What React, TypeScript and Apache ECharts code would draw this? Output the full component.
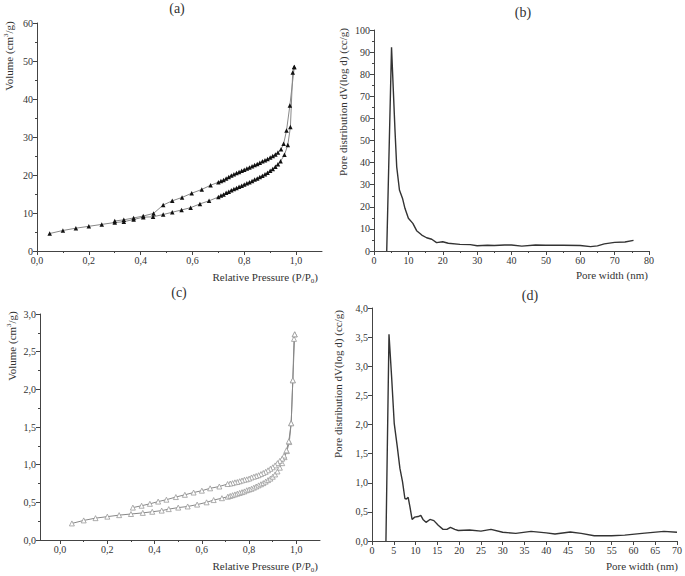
import React, { useEffect, useRef } from 'react';
import * as echarts from 'echarts';

const FONT = '"Liberation Serif", "Times New Roman", serif';
const TXT = '#333';
const AX = '#444';

// (a) isotherm – adsorption branch
const aAdsP = [0.049, 0.10, 0.15, 0.20, 0.25, 0.30, 0.335, 0.373, 0.41, 0.448, 0.487, 0.522, 0.558, 0.593, 0.629, 0.664, 0.70, 0.71, 0.72, 0.73, 0.74, 0.75, 0.76, 0.77, 0.78, 0.79, 0.80, 0.81, 0.82, 0.83, 0.84, 0.85, 0.86, 0.87, 0.88, 0.89, 0.90, 0.91, 0.92, 0.93, 0.94, 0.955, 0.968, 0.978, 0.987, 0.993];
const aAdsV = [4.6, 5.4, 6.0, 6.5, 7.0, 7.5, 7.7, 8.3, 8.9, 9.0, 9.6, 10.2, 10.8, 11.4, 12.4, 13.2, 14.2, 14.6, 14.9, 15.3, 15.6, 16.0, 16.3, 16.6, 16.9, 17.2, 17.5, 17.8, 18.1, 18.4, 18.8, 19.1, 19.5, 19.8, 20.2, 20.6, 21.1, 21.6, 22.2, 22.8, 23.6, 25.3, 27.9, 32.6, 47.0, 48.4];
// (a) isotherm – desorption branch
const aDesP = [0.993, 0.976, 0.963, 0.952, 0.942, 0.93, 0.92, 0.91, 0.90, 0.89, 0.88, 0.87, 0.86, 0.85, 0.84, 0.83, 0.82, 0.81, 0.80, 0.79, 0.78, 0.77, 0.76, 0.75, 0.74, 0.73, 0.72, 0.71, 0.70, 0.67, 0.636, 0.597, 0.56, 0.522, 0.487, 0.45, 0.41, 0.373, 0.335, 0.30];
const aDesV = [48.4, 38.3, 31.7, 28.2, 26.8, 25.9, 25.4, 25.0, 24.6, 24.2, 23.9, 23.6, 23.2, 22.9, 22.6, 22.3, 22.0, 21.7, 21.4, 21.1, 20.8, 20.5, 20.2, 19.9, 19.5, 19.1, 18.7, 18.4, 18.1, 17.3, 16.2, 15.2, 14.1, 13.2, 12.1, 9.9, 9.2, 8.7, 8.2, 7.9];

// (b) pore distribution
const bX = [3.7, 5.1, 6.1, 6.6, 7.4, 8.3, 9.0, 10.0, 11.3, 12.4, 13.9, 15.3, 16.8, 18.2, 20.0, 21.6, 25, 28, 30, 33, 35, 38, 40, 43, 47, 50, 55, 60, 63, 65, 67, 70, 73, 75.5];
const bY = [0, 92.2, 54.8, 38.2, 27.6, 23.8, 19.3, 14.8, 12.5, 9.2, 7.2, 6.0, 5.3, 3.8, 4.2, 3.5, 3.0, 2.9, 2.4, 2.6, 2.5, 2.7, 2.7, 2.2, 2.7, 2.6, 2.6, 2.5, 2.0, 2.3, 3.2, 3.9, 4.1, 4.8];

// (c) isotherm – adsorption branch
const cAdsP = [0.05, 0.10, 0.15, 0.20, 0.25, 0.30, 0.35, 0.39, 0.43, 0.46, 0.50, 0.54, 0.58, 0.62, 0.65, 0.685, 0.71, 0.72, 0.73, 0.74, 0.75, 0.76, 0.77, 0.78, 0.79, 0.80, 0.81, 0.82, 0.83, 0.84, 0.85, 0.86, 0.87, 0.88, 0.89, 0.90, 0.91, 0.92, 0.93, 0.94, 0.95, 0.96, 0.97, 0.978, 0.985, 0.99, 0.993];
const cAdsV = [0.22, 0.26, 0.29, 0.31, 0.33, 0.345, 0.36, 0.375, 0.39, 0.41, 0.43, 0.445, 0.47, 0.50, 0.53, 0.555, 0.575, 0.585, 0.595, 0.605, 0.615, 0.625, 0.635, 0.645, 0.66, 0.67, 0.68, 0.695, 0.71, 0.725, 0.74, 0.755, 0.775, 0.795, 0.815, 0.84, 0.87, 0.91, 0.96, 1.02, 1.10, 1.18, 1.30, 1.55, 2.12, 2.67, 2.73];
// (c) isotherm – desorption branch
const cDesP = [0.993, 0.985, 0.978, 0.968, 0.958, 0.948, 0.94, 0.93, 0.92, 0.91, 0.90, 0.89, 0.88, 0.87, 0.86, 0.85, 0.84, 0.83, 0.82, 0.81, 0.80, 0.79, 0.78, 0.77, 0.76, 0.75, 0.74, 0.73, 0.72, 0.709, 0.674, 0.635, 0.60, 0.565, 0.528, 0.49, 0.45, 0.415, 0.38, 0.345, 0.308];
const cDesV = [2.73, 2.12, 1.55, 1.31, 1.19, 1.12, 1.08, 1.05, 1.02, 0.99, 0.965, 0.945, 0.925, 0.905, 0.89, 0.875, 0.86, 0.85, 0.84, 0.83, 0.815, 0.805, 0.80, 0.79, 0.78, 0.77, 0.765, 0.755, 0.75, 0.743, 0.71, 0.686, 0.655, 0.63, 0.60, 0.57, 0.535, 0.51, 0.48, 0.455, 0.43];

// (d) pore distribution
const dX = [3.2, 3.9, 4.5, 5.1, 5.8, 6.4, 7.0, 7.55, 7.9, 8.3, 8.7, 9.2, 9.8, 10.6, 11.2, 11.7, 12.4, 13.3, 14.2, 15.2, 16.3, 17.2, 18.0, 19.0, 19.8, 22.4, 25, 27.3, 30, 33, 36.5, 40, 42, 45.5, 48, 51, 55, 58, 62, 67, 70];
const dY = [0, 3.55, 2.82, 2.02, 1.62, 1.25, 1.02, 0.73, 0.72, 0.75, 0.59, 0.37, 0.41, 0.42, 0.44, 0.37, 0.32, 0.37, 0.35, 0.27, 0.20, 0.20, 0.235, 0.20, 0.18, 0.19, 0.17, 0.20, 0.15, 0.13, 0.165, 0.14, 0.12, 0.155, 0.13, 0.09, 0.09, 0.10, 0.13, 0.165, 0.15];

// tick labels
const isoXMajor = [0, 0.2, 0.4, 0.6, 0.8, 1.0];
const isoXMinor = [0.1, 0.3, 0.5, 0.7, 0.9];

const zip = (xs: number[], ys: number[]) => xs.map((x, i) => [x, ys[i]]);
const comma = (d: number) => (v: number) => v.toFixed(d).replace('.', ',');

const labelStyle = { fontFamily: FONT, fontSize: 10, color: TXT, margin: 4 };
const lineStyle = { color: AX, width: 1 };

function valAxis(gridIndex: number, extra: any) {
  return {
    type: 'value',
    gridIndex,
    axisLine: { show: true, onZero: false, lineStyle },
    axisTick: { show: true, length: 4, lineStyle },
    minorTick: { show: false },
    splitLine: { show: false },
    axisLabel: { ...labelStyle },
    ...extra,
  };
}

function minorOverlay(gridIndex: number, min: number, max: number, values: number[]) {
  return {
    type: 'value',
    gridIndex,
    position: 'bottom',
    min,
    max,
    axisLine: { show: false },
    axisLabel: { show: false, customValues: values },
    axisTick: { show: true, length: 2, lineStyle, customValues: values },
    splitLine: { show: false },
  };
}

const richBase = {
  n: { font: `11px ${FONT}`, fill: TXT, lineHeight: 14 },
  s: { font: `7px ${FONT}`, fill: TXT, lineHeight: 7, verticalAlign: 'top' },
  b: { font: `7px ${FONT}`, fill: TXT, lineHeight: 7, verticalAlign: 'bottom' },
};

function txt(text: string, x: number, y: number, opts: any = {}) {
  return {
    type: 'text',
    x,
    y,
    rotation: opts.rotation || 0,
    style: {
      text,
      rich: richBase,
      align: opts.align || 'center',
      verticalAlign: 'middle',
      fill: TXT,
      font: `${opts.size || 11}px ${FONT}`,
    },
  };
}

const option: any = {
  animation: false,
  backgroundColor: '#fff',
  grid: [
    { left: 37, top: 23, width: 285, height: 228 },
    { left: 374, top: 30, width: 275, height: 221 },
    { left: 40, top: 314, width: 280, height: 226 },
    { left: 372, top: 308, width: 306, height: 233 },
  ],
  xAxis: [
    valAxis(0, {
      min: 0, max: 1.1, position: 'bottom',
      axisTick: { show: true, length: 4, lineStyle, customValues: isoXMajor },
      axisLabel: { ...labelStyle, customValues: isoXMajor, formatter: comma(1) },
    }),
    minorOverlay(0, 0, 1.1, isoXMinor),
    valAxis(1, {
      min: 0, max: 80, interval: 10,
      minorTick: { show: true, splitNumber: 2, length: 2, lineStyle },
    }),
    valAxis(2, {
      min: -0.085, max: 1.1, position: 'bottom',
      axisTick: { show: true, length: 4, lineStyle, customValues: isoXMajor },
      axisLabel: { ...labelStyle, customValues: isoXMajor, formatter: comma(1) },
    }),
    minorOverlay(2, -0.085, 1.1, isoXMinor),
    valAxis(3, { min: 0, max: 70, interval: 5 }),
  ],
  yAxis: [
    valAxis(0, {
      min: 0, max: 60, interval: 10,
      minorTick: { show: true, splitNumber: 2, length: 2, lineStyle },
    }),
    valAxis(1, {
      min: 0, max: 100, interval: 10,
      minorTick: { show: true, splitNumber: 2, length: 2, lineStyle },
    }),
    valAxis(2, {
      min: 0, max: 3, interval: 0.5,
      minorTick: { show: true, splitNumber: 2, length: 2, lineStyle },
      axisLabel: { ...labelStyle, formatter: comma(1) },
    }),
    valAxis(3, {
      min: 0, max: 4, interval: 0.5,
      axisLabel: { ...labelStyle, formatter: comma(1) },
    }),
  ],
  series: [
    {
      type: 'line', xAxisIndex: 0, yAxisIndex: 0, data: zip(aAdsP, aAdsV),
      symbol: 'triangle', symbolSize: 4.5, itemStyle: { color: '#111' },
      lineStyle: { color: '#888', width: 1 },
    },
    {
      type: 'line', xAxisIndex: 0, yAxisIndex: 0, data: zip(aDesP, aDesV),
      symbol: 'triangle', symbolSize: 4.5, itemStyle: { color: '#111' },
      lineStyle: { color: '#888', width: 1 },
    },
    {
      type: 'line', xAxisIndex: 2, yAxisIndex: 1, data: zip(bX, bY),
      symbol: 'none', lineStyle: { color: '#333', width: 1.4 },
    },
    {
      type: 'line', xAxisIndex: 3, yAxisIndex: 2, data: zip(cAdsP, cAdsV),
      symbol: 'triangle', symbolSize: 5,
      itemStyle: { color: '#fff', borderColor: '#999', borderWidth: 0.8 },
      lineStyle: { color: '#888', width: 1 },
    },
    {
      type: 'line', xAxisIndex: 3, yAxisIndex: 2, data: zip(cDesP, cDesV),
      symbol: 'triangle', symbolSize: 5,
      itemStyle: { color: '#fff', borderColor: '#999', borderWidth: 0.8 },
      lineStyle: { color: '#888', width: 1 },
    },
    {
      type: 'line', xAxisIndex: 5, yAxisIndex: 3, data: zip(dX, dY),
      symbol: 'none', lineStyle: { color: '#333', width: 1.4 },
    },
  ],
  graphic: [
    txt('(a)', 177, 8, { size: 14 }),
    txt('(b)', 523, 12, { size: 14 }),
    txt('(c)', 179, 292, { size: 14 }),
    txt('(d)', 530, 295, { size: 14 }),
    txt('{n|Volume (cm}{s|3}{n|/g)}', 9, 56, { rotation: Math.PI / 2 }),
    txt('{n|Relative Pressure (P/P}{b|0}{n|)}', 318, 277, { align: 'right' }),
    txt('{n|Pore distribution dV(log d) (cc/g)}', 343, 102, { rotation: Math.PI / 2 }),
    txt('{n|Pore width (nm)}', 648, 275, { align: 'right' }),
    txt('{n|Volume (cm}{s|3}{n|/g)}', 12, 346, { rotation: Math.PI / 2 }),
    txt('{n|Relative Pressure (P/P}{b|0}{n|)}', 318, 566, { align: 'right' }),
    txt('{n|Pore distribution dV(log d) (cc/g)}', 338, 384, { rotation: Math.PI / 2 }),
    txt('{n|Pore width (nm)}', 678, 566, { align: 'right' }),
  ],
};

export default function App() {
  const ref = useRef<HTMLDivElement>(null);
  useEffect(() => {
    const chart = echarts.init(ref.current!, null, { renderer: 'svg' });
    chart.setOption(option);
    return () => chart.dispose();
  }, []);
  return (
    <div
      ref={ref}
      style={{ position: 'fixed', left: 0, top: 0, width: 685, height: 576, background: '#fff' }}
    />
  );
}
